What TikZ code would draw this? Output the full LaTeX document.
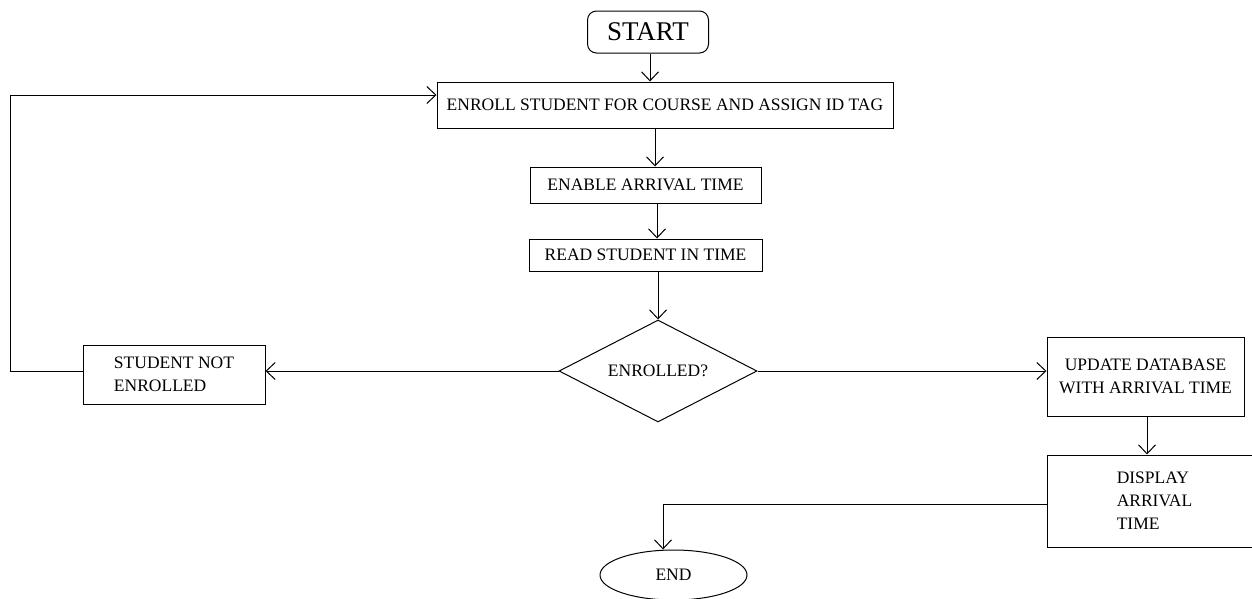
\documentclass[tikz,border=0pt]{standalone}
\usepackage{fontspec}
\setmainfont{Liberation Serif}
\usetikzlibrary{arrows.meta,shapes.geometric}

\begin{document}
\begin{tikzpicture}[x=1pt,y=-1pt,line width=1pt,
	box/.style={draw,rectangle,inner sep=0pt,font=\fontsize{17.5}{23}\selectfont},
	arr/.style={-{Straight Barb[length=9pt,width=17pt]}}]
	\useasboundingbox (0,0) rectangle (1252,598);
	% main column
	\node[box,rounded corners=9pt,minimum width=121pt,minimum height=42pt,font=\fontsize{27}{30}\selectfont] (start) at (648,32) {START};
	\node[box,minimum width=456pt,minimum height=46pt] (enroll) at (665,105) {ENROLL STUDENT FOR COURSE AND ASSIGN ID TAG};
	\node[box,minimum width=231pt,minimum height=36pt] (enable) at (645.5,185) {ENABLE ARRIVAL TIME};
	\node[box,minimum width=233pt,minimum height=32pt] (read) at (645.5,255) {READ STUDENT IN TIME};
	\node[box,diamond,shape aspect=2,minimum width=198pt,minimum height=102pt] (dec) at (658,371) {ENROLLED?};
	% side boxes
	\node[box,align=left,minimum width=182pt,minimum height=59pt] (notenr) at (174,374.5) {STUDENT NOT\\ENROLLED};
	\node[box,align=center,minimum width=197pt,minimum height=79pt] (update) at (1145.5,376.5) {UPDATE DATABASE\\WITH ARRIVAL TIME};
	\node[box,align=left,minimum width=215pt,minimum height=92pt] (display) at (1154.5,501) {DISPLAY\\ARRIVAL\\TIME};
	\node[box,ellipse,minimum width=147pt,minimum height=50pt] (end) at (673.5,575) {END};
	\coordinate (back) at (10,371);

	\draw[arr] (start.south -| 650,0) -- (enroll.north -| 650,0);
	\draw[arr] ([xshift=-10pt]enroll.south) -- ([xshift=9.5pt]enable.north);
	\draw[arr] ([xshift=11.5pt]enable.south) -- ([xshift=11.5pt]read.north);
	\draw[arr] (read.south -| dec.north) -- (dec.north);
	\draw[arr] (dec.west) -- (dec.west -| notenr.east);
	\draw[arr] (notenr.west |- back) -- (back) |- ([yshift=10pt]enroll.west);
	\draw[arr] (dec.east) -- (dec.east -| update.west);
	\draw[arr] ([xshift=1.5pt]update.south) -- ([xshift=1.5pt]update.south |- display.north);
	\draw[arr] ([yshift=-3pt]display.west) -| ([xshift=-10.5pt]end.north);
\end{tikzpicture}
\end{document}
